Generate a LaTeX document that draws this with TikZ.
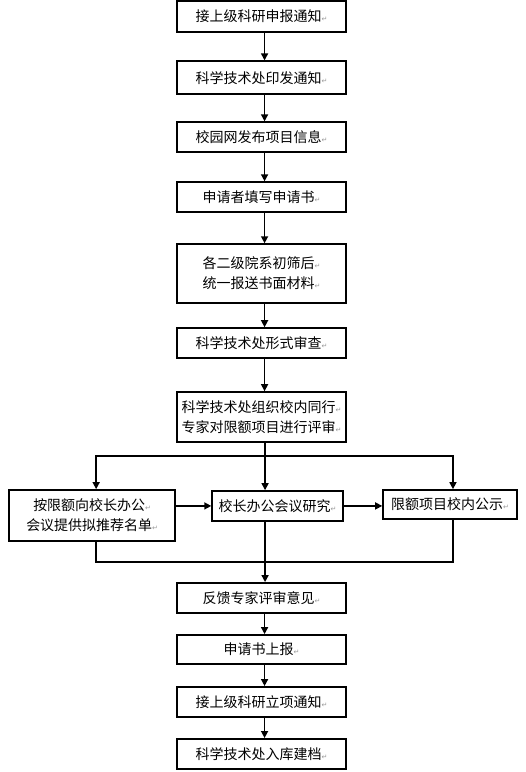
\documentclass[tikz,border=0pt]{standalone}
\usepackage{fontspec}
\usepackage{tikz}
\usetikzlibrary{arrows.meta}
\newfontfamily\cjk{Noto Sans CJK SC}
\newfontfamily\symfont{DejaVu Sans}
\newcommand{\pmark}{{\symfont\fontsize{7}{7}\selectfont\color{gray!80}↵}}

\begin{document}
\begin{tikzpicture}[x=1pt, y=-1pt,
    box/.style={draw, line width=1.6, minimum width=169, inner sep=0,
      font=\cjk\fontsize{14}{20}\selectfont, align=center},
    flow/.style={->, >={Triangle[length=7, width=7]}, line width=1.5},
    link/.style={line width=1.5}]

  \draw[white] (0, 0) rectangle (525, 772);

  % main column
  \node[box, minimum height=31] (b1) at (261.5, 16.5) {接上级科研申报通知\pmark};
  \node[box, minimum height=33] (b2) at (261.5, 77.5) {科学技术处印发通知\pmark};
  \node[box, minimum height=30] (b3) at (261.5, 137) {校园网发布项目信息\pmark};
  \node[box, minimum height=30] (b4) at (261.5, 197) {申请者填写申请书\pmark};
  \node[box, minimum height=59] (b5) at (261.5, 273.5) {各二级院系初筛后\pmark\\统一报送书面材料\pmark};
  \node[box, minimum height=30] (b6) at (261.5, 343) {科学技术处形式审查\pmark};
  \node[box, minimum height=50] (b7) at (261.5, 417) {科学技术处组织校内同行\pmark\\专家对限额项目进行评审\pmark};

  % three branches
  \node[box, minimum width=166, minimum height=51] (quota) at (92, 515.5) {按限额向校长办公\pmark\\会议提供拟推荐名单\pmark};
  \node[box, minimum width=131, minimum height=30] (meet) at (277.5, 506) {校长办公会议研究\pmark};
  \node[box, minimum width=134, minimum height=29] (pub) at (450, 504.5) {限额项目校内公示\pmark};

  % lower column
  \node[box, minimum height=30] (b8) at (261.5, 598) {反馈专家评审意见\pmark};
  \node[box, minimum height=29] (b9) at (261.5, 649.5) {申请书上报\pmark};
  \node[box, minimum height=30] (b10) at (261.5, 702) {接上级科研立项通知\pmark};
  \node[box, minimum height=30] (b11) at (261.5, 754) {科学技术处入库建档\pmark};

  \foreach \a/\b in {b1/b2, b2/b3, b3/b4, b4/b5, b5/b6, b6/b7, b8/b9, b9/b10, b10/b11} {
    \draw[flow] ([xshift=3]\a.south) -- ([xshift=3]\b.north);
  }

  \coordinate (split) at (265, 456);
  \coordinate (join) at (265, 562);
  \coordinate (lx) at (96, 0);
  \coordinate (rx) at (453, 0);

  \draw[link] ([xshift=3.5]b7.south) -- (split);
  \draw[flow] (split) -- (split |- meet.north);
  \draw[flow] (split) -| (lx |- quota.north);
  \draw[flow] (split) -| (rx |- pub.north);

  \draw[flow] (quota.east |- meet.west) -- (meet.west);
  \draw[flow] (meet.east) -- (pub.west |- meet.east);

  \draw[link] (lx |- quota.south) |- (join);
  \draw[link] (rx |- pub.south) |- (join);
  \draw[flow] (split |- meet.south) -- (split |- b8.north);

\end{tikzpicture}
\end{document}
